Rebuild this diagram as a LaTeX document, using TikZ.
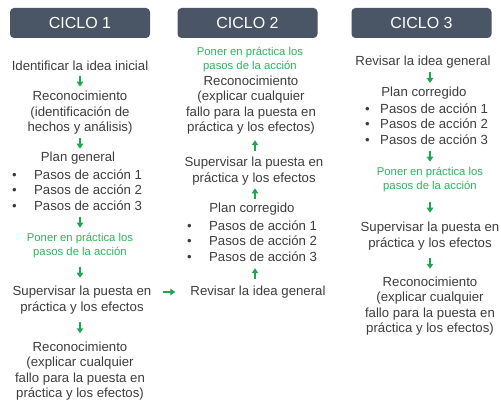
\documentclass[tikz,border=0pt]{standalone}
\usepackage{fontspec}
\setmainfont{Liberation Sans}
\usetikzlibrary{arrows.meta,calc}
\definecolor{hdrcol}{HTML}{4A5565}
\definecolor{txtcol}{HTML}{3D3D3D}
\definecolor{grn}{HTML}{2DB35D}
\definecolor{arrcol}{HTML}{1FA64F}
\tikzset{
  hdr/.style={fill=hdrcol,rounded corners=4pt,minimum width=140pt,minimum height=30pt,text=white,font=\fontsize{16}{18}\selectfont,inner sep=0pt},
  body/.style={text=txtcol,align=center,inner sep=0pt,font=\fontsize{13.2}{15.5}\selectfont},
  lst/.style={text=txtcol,align=left,inner sep=0pt,anchor=west,font=\fontsize{13.2}{15.7}\selectfont},
  act/.style={text=grn,align=center,inner sep=0pt,font=\fontsize{11.3}{14}\selectfont},
  arr/.style={draw=arrcol,line width=1.8pt,-{Triangle[width=6.5pt,length=5pt]}}
}
% vertical arrow of fixed length centred between two points
\newcommand{\varr}[2]{\draw[arr] ($($#1$)!.5!($#2$)+(0,-5.5)$) -- ($($#1$)!.5!($#2$)+(0,5.5)$);}
\newcommand{\uarr}[2]{\draw[arr] ($($#1$)!.5!($#2$)+(0,5.5)$) -- ($($#1$)!.5!($#2$)+(0,-5.5)$);}
\begin{document}
\begin{tikzpicture}[x=1pt,y=-1pt]
\useasboundingbox (0,0) rectangle (501,401);
% headers
\node[hdr] (h1) at (80,23) {CICLO 1};
\node[hdr] (h2) at (247.5,23) {CICLO 2};
\node[hdr] (h3) at (421.5,23) {CICLO 3};
\coordinate (ax1) at (80,0);
\coordinate (ax2) at (255,0);
\coordinate (ax3) at (430,0);
% column 1
\node[body] (id1) at (80,66) {Identificar la idea inicial};
\node[body] (rec1) at (80,113) {Reconocimiento\\(identificación de\\hechos y análisis)};
\node[body] (plan1) at (78,158) {Plan general};
\node[lst] (list1) at (12,190) {\makebox[22pt][l]{•}Pasos de acción 1\\\makebox[22pt][l]{•}Pasos de acción 2\\\makebox[22pt][l]{•}Pasos de acción 3};
\node[act] (pon1) at (80,246) {Poner en práctica los\\pasos de la acción};
\node[body] (sup1) at (82,300) {Supervisar la puesta en\\práctica y los efectos};
\node[body] (rec1b) at (80,371) {Reconocimiento\\(explicar cualquier\\fallo para la puesta en\\práctica y los efectos)};
% column 2
\node[act] (pon2) at (250,60) {Poner en práctica los\\pasos de la acción};
\node[body] (rec2) at (251,105) {Reconocimiento\\(explicar cualquier\\fallo para la puesta en\\práctica y los efectos)};
\node[body] (sup2) at (254,171) {Supervisar la puesta en\\práctica y los efectos};
\node[body] (plan2) at (252,209) {Plan corregido};
\node[lst] (list2) at (187,241) {\makebox[22pt][l]{•}Pasos de acción 1\\\makebox[22pt][l]{•}Pasos de acción 2\\\makebox[22pt][l]{•}Pasos de acción 3};
\node[body] (rev2) at (258,292) {Revisar la idea general};
% column 3
\node[body] (rev3) at (423,62) {Revisar la idea general};
\node[body] (plan3) at (424,93) {Plan corregido};
\node[lst] (list3) at (365,124) {\makebox[15pt][l]{•}Pasos de acción 1\\\makebox[15pt][l]{•}Pasos de acción 2\\\makebox[15pt][l]{•}Pasos de acción 3};
\node[act] (pon3) at (430,180) {Poner en práctica los\\pasos de la acción};
\node[body] (sup3) at (430,236) {Supervisar la puesta en\\práctica y los efectos};
\node[body] (rec3) at (430,306) {Reconocimiento\\(explicar cualquier\\fallo para la puesta en\\práctica y los efectos)};
% arrows column 1
\varr{(id1.south -| ax1)}{(rec1.north -| ax1)}
\varr{(rec1.south -| ax1)}{(plan1.north -| ax1)}
\varr{(list1.south -| ax1)}{(pon1.north -| ax1)}
\varr{(pon1.south -| ax1)}{(sup1.north -| ax1)}
\varr{(sup1.south -| ax1)}{(rec1b.north -| ax1)}
% cross arrow
\draw[arr,shorten <=11pt,shorten >=15pt] (sup1.east |- rev2.west) -- (rev2.west);
% arrows column 2 (upward)
\uarr{(list2.south -| ax2)}{(rev2.north -| ax2)}
\uarr{(sup2.south -| ax2)}{(plan2.north -| ax2)}
\uarr{(rec2.south -| ax2)}{(sup2.north -| ax2)}
% arrows column 3
\varr{(rev3.south -| ax3)}{(plan3.north -| ax3)}
\varr{(list3.south -| ax3)}{(pon3.north -| ax3)}
\varr{(pon3.south -| ax3)}{(sup3.north -| ax3)}
\varr{(sup3.south -| ax3)}{(rec3.north -| ax3)}
\end{tikzpicture}
\end{document}
